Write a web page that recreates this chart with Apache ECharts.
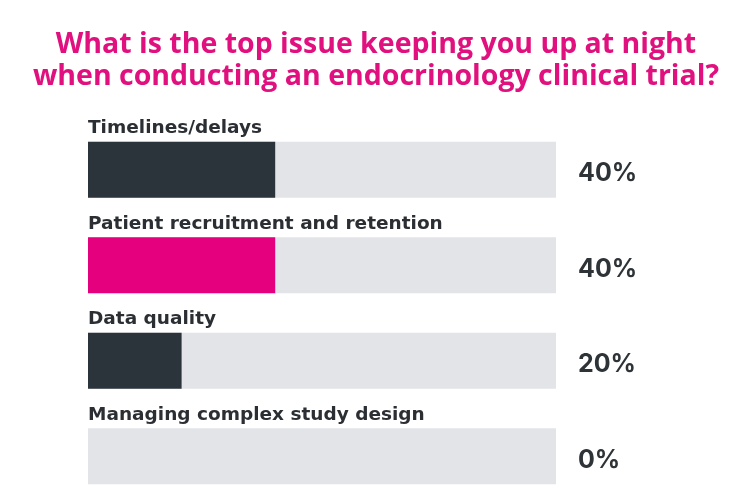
<!DOCTYPE html>
<html>
<head>
<meta charset="utf-8">
<script src="https://cdn.jsdelivr.net/npm/echarts@6/dist/echarts.min.js"></script>
<style>html,body{margin:0;padding:0;background:#fff;}#c{width:741px;height:496px;}</style>
</head>
<body>
<div id="c"></div>
<script>
const titleLines = ['What is the top issue keeping you up at night', 'when conducting an endocrinology clinical trial?'];
const categories = ['Timelines/delays', 'Patient recruitment and retention', 'Data quality', 'Managing complex study design'];
const values = [40, 40, 20, 0];
const barColors = ['#2b333b', '#e5007d', '#2b333b', '#2b333b'];

const chart = echarts.init(document.getElementById('c'), null, {renderer: 'canvas'});
chart.setOption({
  animation: false,
  backgroundColor: '#ffffff',
  title: {
    text: titleLines.join('\n'),
    left: 371,
    top: 24,
    textAlign: 'center',
    textStyle: {
      fontFamily: 'Open Sans',
      fontWeight: 700,
      fontSize: 28.5,
      lineHeight: 32,
      align: 'center',
      color: '#e0107e'
    }
  },
  grid: {left: 88, width: 468, top: 122, height: 382, containLabel: false, outerBoundsMode: 'none'},
  xAxis: {type: 'value', min: 0, max: 100, show: false},
  yAxis: {
    type: 'category',
    data: categories,
    inverse: true,
    axisLine: {show: false},
    axisTick: {show: false},
    splitLine: {show: false},
    axisLabel: {
      inside: true,
      margin: 0,
      align: 'left',
      verticalAlign: 'bottom',
      padding: [0, 0, 32, 0],
      fontFamily: 'DejaVu Sans',
      fontWeight: 'bold',
      fontSize: 18.5,
      color: '#2b2f33'
    }
  },
  series: [{
    type: 'bar',
    data: values.map((v, i) => ({value: v, itemStyle: {color: barColors[i]}})),
    barWidth: 56,
    showBackground: true,
    backgroundStyle: {color: '#e3e4e8'},
    label: {
      show: true,
      position: [490, 32],
      align: 'left',
      verticalAlign: 'middle',
      formatter: p => p.value + '%',
      fontFamily: 'Inter',
      fontWeight: 700,
      fontSize: 25,
      color: '#2e3338'
    }
  }]
});
</script>
</body>
</html>
